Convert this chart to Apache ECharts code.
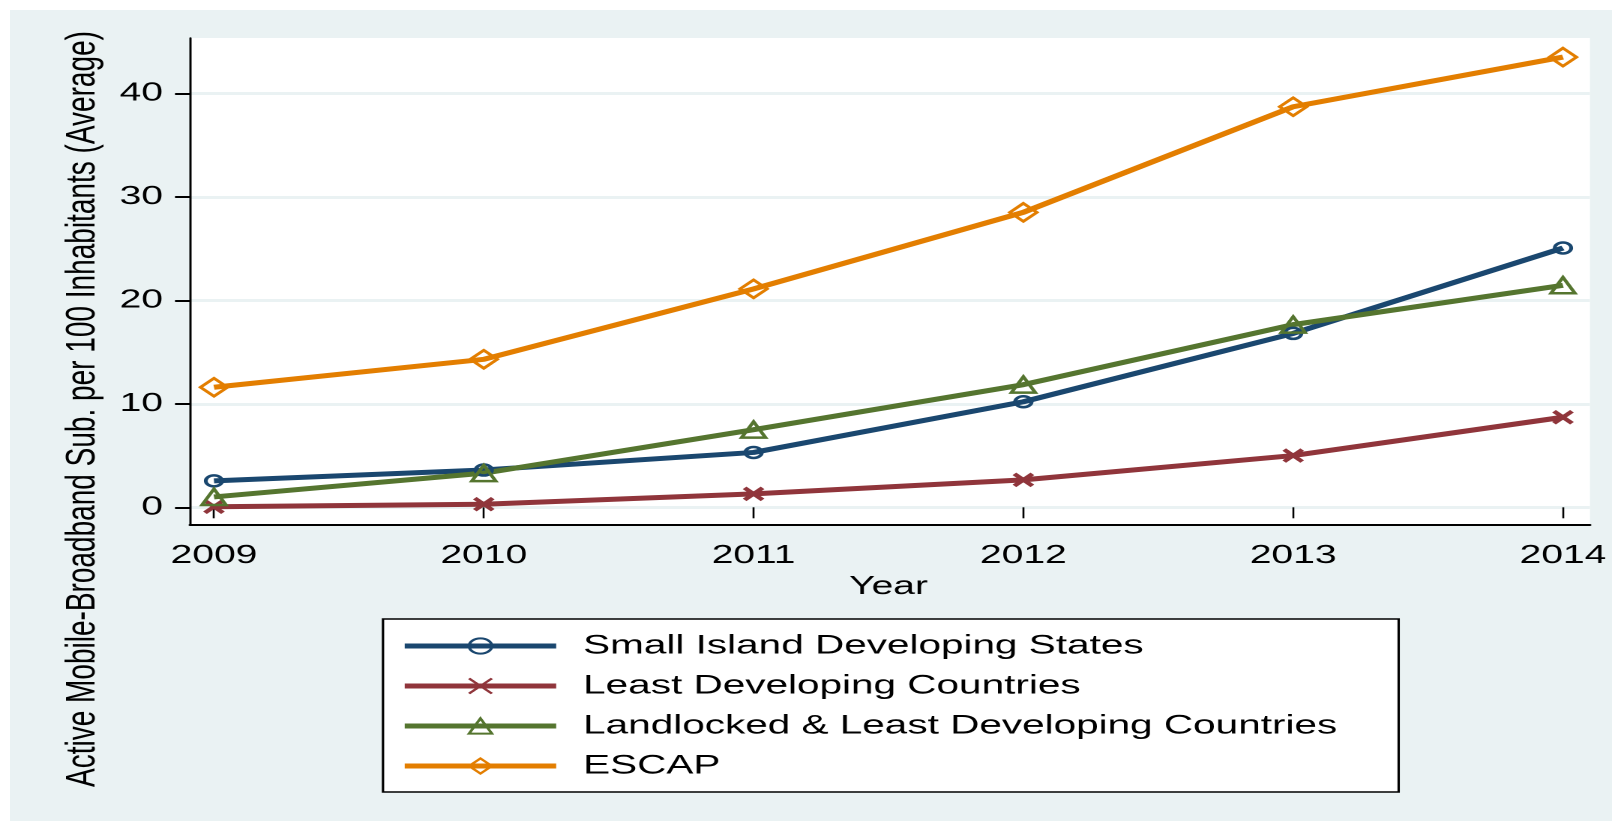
<!DOCTYPE html>
<html>
<head>
<meta charset="utf-8">
<title>Active Mobile-Broadband Subscriptions</title>
<script src="https://cdn.jsdelivr.net/npm/echarts@6.0.0/dist/echarts.min.js"></script>
<style>
  html, body { margin: 0; padding: 0; background: #fff; overflow: hidden; }
  #bg { position: absolute; left: 10px; top: 10px; right: 0; bottom: 0; background: #eaf2f3; }
  /* the original graph is stretched sideways, so the chart is drawn narrow and widened */
  #chart { position: absolute; left: 0; top: 0; width: 1075px; height: 821px; transform-origin: 0 0; }
</style>
</head>
<body>
<div id="bg"></div>
<div id="chart"></div>
<script>
// data
const years = [2009, 2010, 2011, 2012, 2013, 2014]
const sids = [2.55, 3.6, 5.3, 10.2, 16.8, 25.05]
const ldc = [0.05, 0.3, 1.3, 2.65, 5.0, 8.7]
const lldc = [1.0, 3.3, 7.5, 11.85, 17.65, 21.45]
const escap = [11.6, 14.3, 21.1, 28.5, 38.7, 43.5]
const seriesNames = [
  'Small Island Developing States',
  'Least Developing Countries',
  'Landlocked & Least Developing Countries',
  'ESCAP'
]
const yTicks = [0, 10, 20, 30, 40]
const yTitle = 'Active Mobile-Broadband Sub. per 100 Inhabitants (Average)'
const xTitle = 'Year'

const W = 1075
const sx = 1612 / W
const el = document.getElementById('chart')
el.style.transform = 'scaleX(' + sx + ')'

const font = "'Liberation Sans', Arial, Helvetica, sans-serif"
const colors = ['#1a476f', '#90353b', '#55752f', '#e37e00']
const symbols = ['circle', 'path://M0,0L10,10M10,0L0,10', 'triangle', 'diamond']
const symbolSizes = [11, 12, 16, 18]
const values = [sids, ldc, lldc, escap]

const pair = (arr) => years.map((y, i) => [y, arr[i]])

const hidden = { show: false }

const makeSeries = (i) => ({
  name: seriesNames[i],
  type: 'line',
  xAxisIndex: 1,
  yAxisIndex: 1,
  data: pair(values[i]),
  clip: false,
  symbol: symbols[i],
  symbolSize: symbolSizes[i],
  showAllSymbol: true,
  lineStyle: { color: colors[i], width: 5 },
  itemStyle: {
    color: 'transparent',
    borderColor: colors[i],
    borderWidth: i === 1 ? 3.5 : 2.5
  },
  emphasis: { disabled: true },
  animation: false
})

const chart = echarts.init(el, null, { devicePixelRatio: 2 })

chart.setOption({
  animation: false,
  textStyle: { fontFamily: font },
  grid: [
    // plot frame (white region)
    { left: 126.7, right: 14.7, top: 38, bottom: 296, show: true, backgroundColor: '#fff', borderWidth: 0 },
    // data area: 2009..2014 by 0..40
    { left: 142.7, right: 32.7, top: 93.3, bottom: 313.7 },
    // y ticks and grid lines over the full plot width
    { left: 126.7, right: 14.7, top: 93.3, bottom: 313.7 }
  ],
  xAxis: [
    {
      gridIndex: 0, type: 'value', min: 0, max: 1,
      axisLine: { show: true, lineStyle: { color: '#000', width: 2 } },
      axisTick: hidden, axisLabel: hidden, splitLine: hidden
    },
    {
      gridIndex: 1, type: 'value', min: 2009, max: 2014, interval: 1,
      offset: 17.7,
      axisLine: hidden,
      axisTick: { show: true, length: 11, lineStyle: { color: '#000', width: 1.3 } },
      axisLabel: { color: '#000', fontSize: 26, margin: 18, formatter: (v) => String(v) },
      splitLine: hidden,
      name: xTitle,
      nameLocation: 'middle',
      nameGap: 47,
      nameTextStyle: { color: '#000', fontSize: 26 }
    },
    { gridIndex: 2, type: 'value', min: 0, max: 1, show: false }
  ],
  yAxis: [
    {
      gridIndex: 0, type: 'value', min: 0, max: 1,
      axisLine: { show: true, lineStyle: { color: '#000', width: 1.5 } },
      axisTick: hidden, axisLabel: hidden, splitLine: hidden
    },
    { gridIndex: 1, type: 'value', min: 0, max: 40, show: false },
    {
      gridIndex: 2, type: 'value', min: yTicks[0], max: yTicks[yTicks.length - 1], interval: 10,
      axisLine: hidden,
      axisTick: { show: true, length: 10, lineStyle: { color: '#000', width: 2 } },
      axisLabel: { color: '#000', fontSize: 26, margin: 18 },
      splitLine: { show: true, lineStyle: { color: '#eaf2f3', width: 3 } }
    }
  ],
  legend: {
    orient: 'vertical',
    left: 255.4,
    top: 619,
    padding: [7, 41, 6, 12],
    itemGap: 0,
    itemWidth: 101,
    itemHeight: 19,
    backgroundColor: '#fff',
    borderColor: '#000',
    borderWidth: 1.6,
    borderRadius: 0,
    selectedMode: false,
    lineStyle: { width: 5 },
    textStyle: { color: '#000', fontSize: 27, lineHeight: 40, padding: [0, 0, 0, 13] },
    data: seriesNames
  },
  graphic: [
    {
      type: 'text',
      x: 55.3,
      y: 409,
      rotation: Math.PI / 2,
      style: {
        text: yTitle,
        fill: '#000',
        font: '28px ' + font,
        textAlign: 'center',
        textVerticalAlign: 'middle'
      }
    }
  ],
  series: [0, 1, 2, 3].map(makeSeries)
})
</script>
</body>
</html>
